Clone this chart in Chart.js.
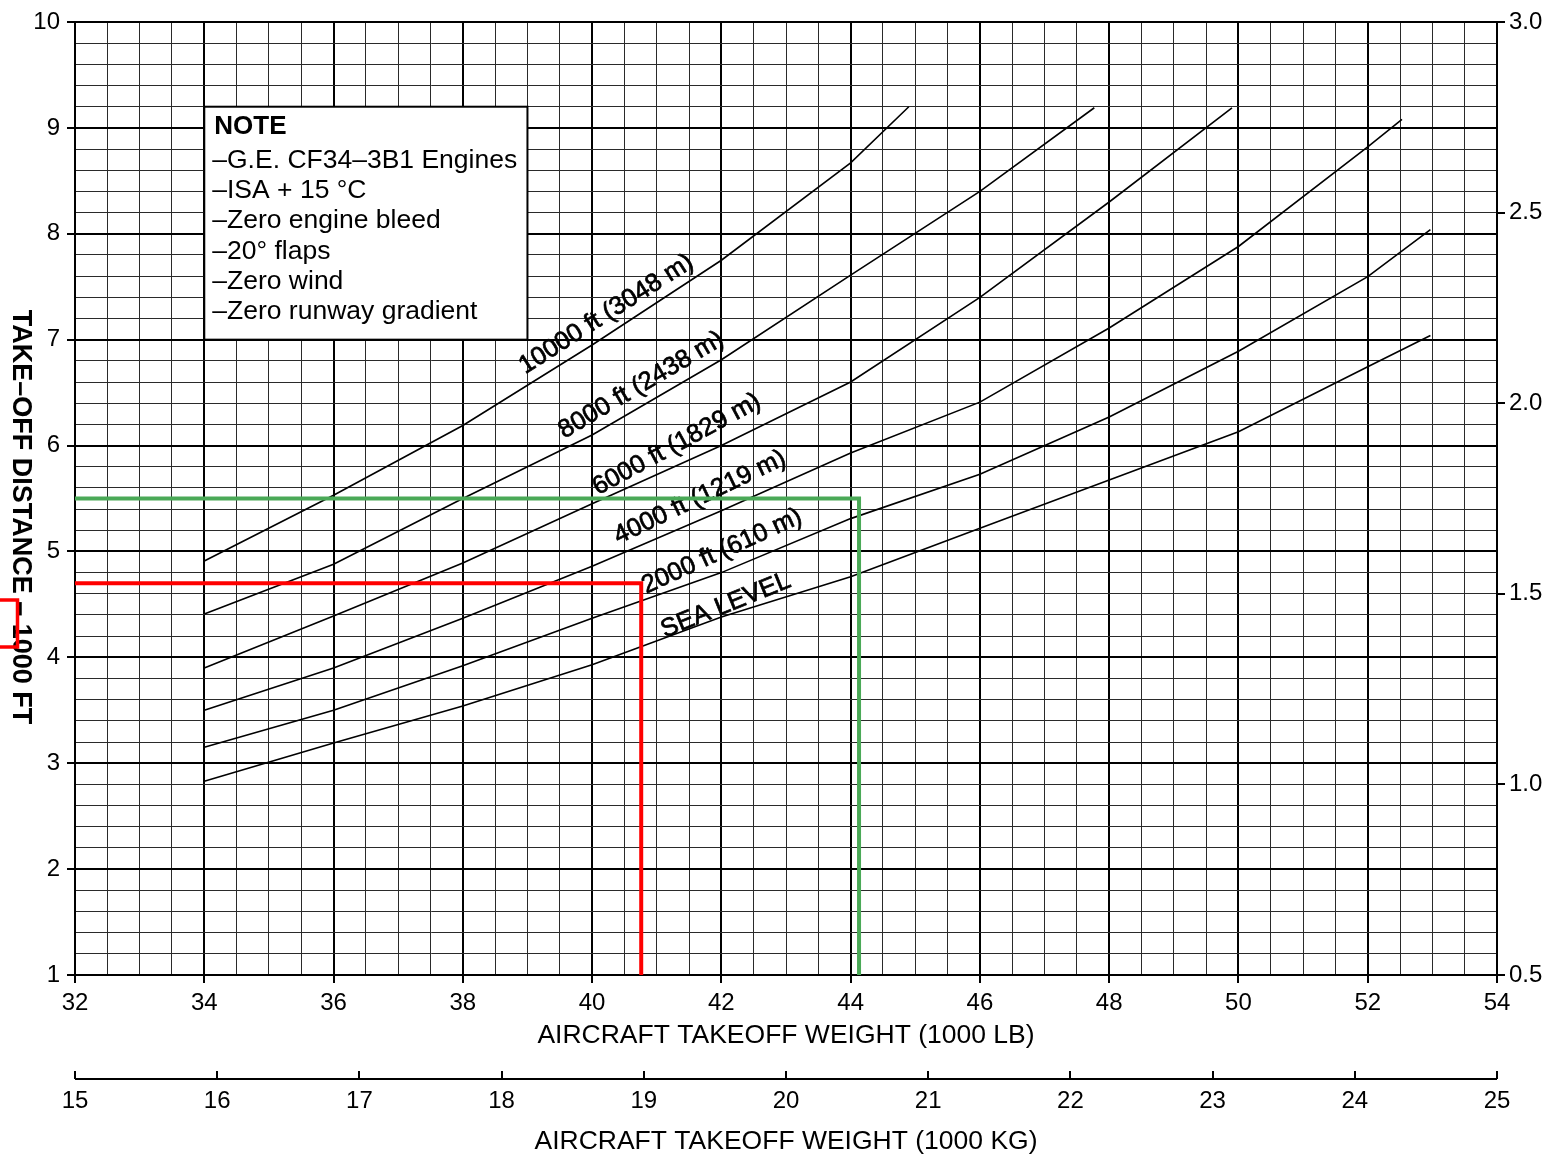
<!DOCTYPE html>
<html>
<head>
<meta charset="utf-8">
<title>Take-off distance</title>
<script src="https://cdn.jsdelivr.net/npm/chart.js@4.4.1/dist/chart.umd.min.js"></script>
<style>
  body { margin: 0; background: #fff; }
  canvas { display: block; }
</style>
</head>
<body>
<canvas id="takeoffChart" width="1543" height="1160"></canvas>
<script>
// take-off weight (1000 lb) -> take-off distance (1000 ft), one pair per altitude curve
var wtSea = [34, 36, 38, 40, 42, 44, 46, 48, 50, 52, 52.97];
var distSea = [2.83, 3.19, 3.54, 3.93, 4.38, 4.76, 5.22, 5.675, 6.13, 6.745, 7.04];
var wt2000 = [34, 36, 38, 40, 42, 44, 46, 48, 50, 52, 52.97];
var dist2000 = [3.15, 3.50, 3.92, 4.37, 4.80, 5.31, 5.73, 6.27, 6.89, 7.595, 8.04];
var wt4000 = [34, 36, 38, 40, 42, 44, 46, 48, 50, 52, 52.53];
var dist4000 = [3.50, 3.90, 4.37, 4.86, 5.385, 5.93, 6.41, 7.11, 7.88, 8.82, 9.08];
var wt6000 = [34, 36, 38, 40, 42, 44, 46, 48, 49.9];
var dist6000 = [3.90, 4.39, 4.89, 5.45, 6.00, 6.60, 7.40, 8.30, 9.19];
var wt8000 = [34, 36, 38, 40, 42, 44, 46, 47.77];
var dist8000 = [4.41, 4.88, 5.50, 6.10, 6.81, 7.61, 8.40, 9.19];
var wt10000 = [34, 36, 38, 40, 42, 44, 44.9];
var dist10000 = [4.91, 5.53, 6.19, 6.95, 7.75, 8.67, 9.2];

var curveNames = ["SEA LEVEL", "2000 ft (610 m)", "4000 ft (1219 m)",
                  "6000 ft (1829 m)", "8000 ft (2438 m)", "10000 ft (3048 m)"];

// worked examples (red and green)
var redWeight = 40.76, redDist = 4.7;
var greenWeight = 44.13, greenDist = 5.5;

var noteTitle = "NOTE";
var noteLines = [
  "\u2013G.E. CF34\u20133B1 Engines",
  "\u2013ISA + 15 \u00B0C",
  "\u2013Zero engine bleed",
  "\u201320\u00B0 flaps",
  "\u2013Zero wind",
  "\u2013Zero runway gradient"
];

// label placement along curves: weight, distance, angle (deg)
var curveLabelPos = [
  [42.07, 4.49, -22],
  [42.01, 5.00, -24.5],
  [41.67, 5.51, -25.5],
  [41.31, 6.01, -28.5],
  [40.76, 6.57, -30.5],
  [40.22, 7.24, -32.5]
];
// note box: weight from/to, distance from/to
var noteBox = [34, 39, 7, 9.2];

var FONT = '"Liberation Sans", Arial, sans-serif';
Chart.defaults.font.family = FONT;
Chart.defaults.color = "#000";

function pts(xs, ys) {
  return xs.map(function (x, i) { return { x: x, y: ys[i] }; });
}
function near(v, step) {
  return Math.abs(v / step - Math.round(v / step)) < 1e-6;
}
function curve(xs, ys) {
  return { data: pts(xs, ys), borderColor: "#000", borderWidth: 1.6,
           pointRadius: 0, tension: 0, fill: false };
}

var chartPlugin = {
  id: "chartExtras",
  beforeDatasetsDraw: function (chart) {
    var c = chart.ctx, xs = chart.scales.x, ys = chart.scales.y;
    var l = xs.getPixelForValue(noteBox[0]), r = xs.getPixelForValue(noteBox[1]);
    var t = ys.getPixelForValue(noteBox[3]), b = ys.getPixelForValue(noteBox[2]);
    c.save();
    c.fillStyle = "#fff";
    c.fillRect(l, t, r - l, b - t);
    c.strokeStyle = "#000";
    c.lineWidth = 2;
    c.strokeRect(l, t, r - l, b - t);
    c.fillStyle = "#000";
    c.textBaseline = "middle";
    c.textAlign = "left";
    c.font = "bold 26px " + FONT;
    c.fillText(noteTitle, l + 10, t + 20);
    c.font = "26.5px " + FONT;
    noteLines.forEach(function (s, i) {
      c.fillText(s, l + 8, t + 54 + i * 30.2);
    });

    // altitude labels
    c.font = "25.5px " + FONT;
    c.textAlign = "center";
    c.strokeStyle = "#000";
    c.lineWidth = 0.7;
    curveNames.forEach(function (name, i) {
      var p = curveLabelPos[i];
      c.save();
      c.translate(xs.getPixelForValue(p[0]), ys.getPixelForValue(p[1]));
      c.rotate(p[2] * Math.PI / 180);
      c.fillText(name, 0, 0);
      c.strokeText(name, 0, 0);
      c.restore();
    });
    c.restore();
  },
  afterDraw: function (chart) {
    var c = chart.ctx;
    c.save();
    // left axis title, reading top to bottom
    c.translate(20, 517);
    c.rotate(Math.PI / 2);
    c.font = "bold 27px " + FONT;
    c.textAlign = "center";
    c.textBaseline = "middle";
    c.fillStyle = "#000";
    c.fillText("TAKE\u2013OFF DISTANCE \u2013 1000 FT", 0, 0);
    c.restore();

    // red marker box on the title
    c.save();
    c.strokeStyle = "#ff0000";
    c.lineWidth = 3.5;
    c.strokeRect(-5, 600, 22.5, 47);
    c.restore();

    // kg axis base line
    var s = chart.scales.x2;
    c.save();
    c.strokeStyle = "#000";
    c.lineWidth = 2;
    c.beginPath();
    c.moveTo(s.left, s.top + 8);
    c.lineTo(s.right, s.top + 8);
    c.stroke();
    c.restore();
  }
};

var ctx = document.getElementById("takeoffChart").getContext("2d");

var chart = new Chart(ctx, {
  type: "line",
  data: {
    datasets: [
      { data: [{ x: 32, y: redDist }, { x: redWeight, y: redDist }, { x: redWeight, y: 1 }],
        borderColor: "#ff0000", borderWidth: 4, pointRadius: 0, tension: 0 },
      { data: [{ x: 32, y: greenDist }, { x: greenWeight, y: greenDist }, { x: greenWeight, y: 1 }],
        borderColor: "#4aa957", borderWidth: 4, pointRadius: 0, tension: 0 },
      curve(wtSea, distSea),
      curve(wt2000, dist2000),
      curve(wt4000, dist4000),
      curve(wt6000, dist6000),
      curve(wt8000, dist8000),
      curve(wt10000, dist10000)
    ]
  },
  options: {
    responsive: false,
    animation: false,
    devicePixelRatio: 1,
    layout: { padding: { top: 22, left: 0, right: 0, bottom: 0 } },
    plugins: { legend: { display: false }, tooltip: { enabled: false } },
    scales: {
      x: {
        type: "linear", position: "bottom", weight: 0,
        min: 32, max: 54,
        afterFit: function (s) { s.height = 96; },
        ticks: {
          stepSize: 0.5, autoSkip: false, maxRotation: 0, padding: 6,
          font: { size: 24 },
          callback: function (v) { return near(v, 2) ? String(Math.round(v)) : ""; }
        },
        grid: {
          color: function (c) { return c.tick && near(c.tick.value, 2) ? "#000" : "#2a2a2a"; },
          lineWidth: function (c) { return c.tick && near(c.tick.value, 2) ? 2 : 1; },
          tickColor: function (c) { return c.tick && near(c.tick.value, 2) ? "#000" : "rgba(0,0,0,0)"; },
          tickWidth: 2,
          tickLength: 8
        },
        border: { color: "#000", width: 2 },
        title: { display: true, text: "AIRCRAFT TAKEOFF WEIGHT (1000 LB)",
                 font: { size: 26.5 }, padding: { top: 0, bottom: 19 } }
      },
      x2: {
        type: "linear", position: "bottom", weight: 1,
        min: 15, max: 25,
        afterFit: function (s) { s.height = 89; },
        ticks: { stepSize: 1, autoSkip: false, maxRotation: 0, padding: 8, font: { size: 24 } },
        grid: { drawOnChartArea: false, color: "#000", lineWidth: 2, tickLength: 8 },
        border: { display: false },
        title: { display: true, text: "AIRCRAFT TAKEOFF WEIGHT (1000 KG)",
                 font: { size: 26.5 }, padding: { top: 0, bottom: 2 } }
      },
      y: {
        type: "linear", position: "left",
        min: 1, max: 10,
        afterFit: function (s) { s.width = 75; },
        ticks: {
          stepSize: 0.2, autoSkip: false, padding: 7,
          font: { size: 24 },
          callback: function (v) { return near(v, 1) ? String(Math.round(v)) : ""; }
        },
        grid: {
          color: function (c) { return c.tick && near(c.tick.value, 1) ? "#000" : "#2a2a2a"; },
          lineWidth: function (c) { return c.tick && near(c.tick.value, 1) ? 2 : 1; },
          tickColor: function (c) { return c.tick && near(c.tick.value, 1) ? "#000" : "rgba(0,0,0,0)"; },
          tickWidth: 2,
          tickLength: 8
        },
        border: { color: "#000", width: 2 }
      },
      y2: {
        type: "linear", position: "right",
        min: 0.5, max: 3.0,
        afterFit: function (s) { s.width = 46; },
        ticks: {
          stepSize: 0.5, padding: 4, font: { size: 24 },
          callback: function (v) { return v.toFixed(1); }
        },
        grid: { drawOnChartArea: false, color: "#000", lineWidth: 2, tickLength: 8 },
        border: { color: "#000", width: 2 }
      }
    }
  },
  plugins: [chartPlugin]
});
</script>
</body>
</html>
